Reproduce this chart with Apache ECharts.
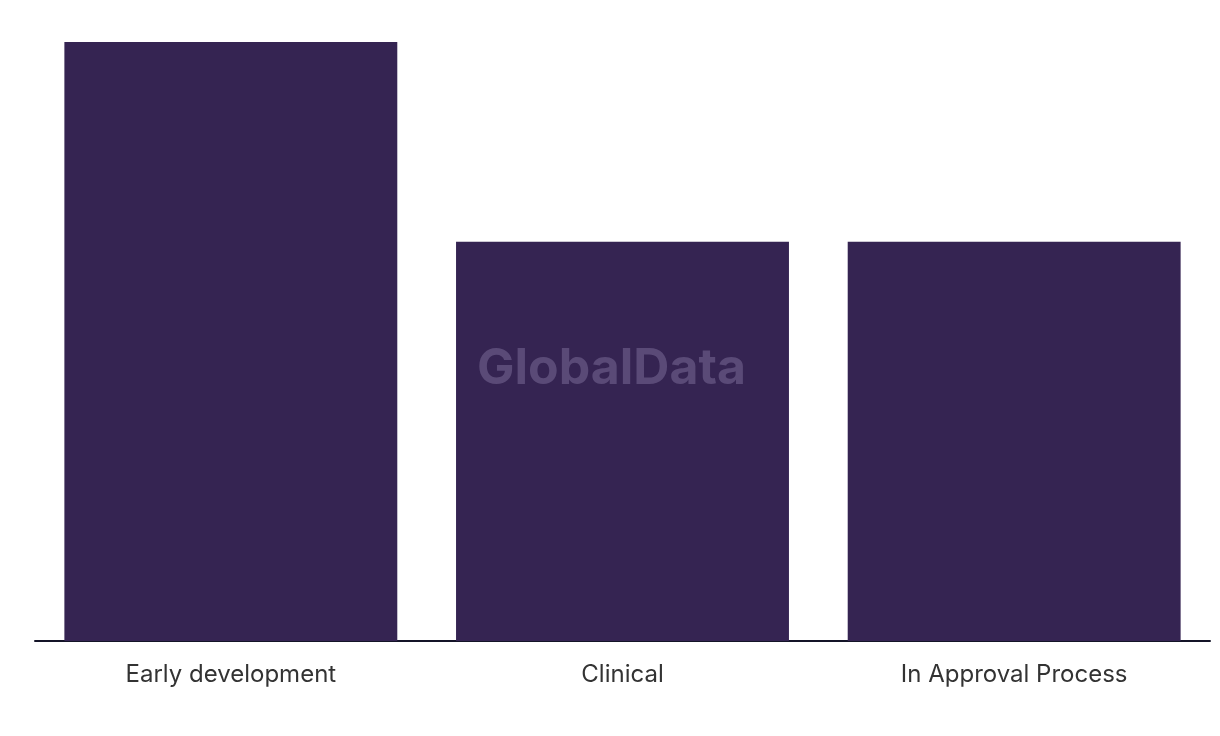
<!DOCTYPE html>
<html>
<head>
<meta charset="utf-8">
<script src="https://cdn.jsdelivr.net/npm/echarts@6/dist/echarts.min.js"></script>
<style>
html,body{margin:0;padding:0;background:#fff;}
#chart{width:1220px;height:736px;}
</style>
</head>
<body>
<div id="chart"></div>
<script>
const categories = ["Early development", "Clinical", "In Approval Process"];
const values = [3, 2, 2];

const chart = echarts.init(document.getElementById('chart'), null, {renderer: 'canvas'});
chart.setOption({
  animation: false,
  backgroundColor: '#ffffff',
  grid: {left: 35, right: 10, top: 42, bottom: 95, containLabel: false},
  xAxis: {
    type: 'category',
    data: categories,
    axisLine: {show: true, lineStyle: {color: '#141428', width: 2}},
    axisTick: {show: false},
    axisLabel: {color: '#333333', fontSize: 24, fontFamily: 'Inter, "Noto Sans", sans-serif', margin: 22}
  },
  yAxis: {
    type: 'value',
    min: 0,
    max: 3,
    show: false,
    splitLine: {show: false}
  },
  graphic: [{
    type: 'text',
    z: 100,
    style: {
      x: 477,
      y: 369,
      text: 'GlobalData',
      align: 'left',
      verticalAlign: 'middle',
      fill: 'rgba(120,105,150,0.55)',
      font: 'bold 50px Inter, "Noto Sans", sans-serif'
    }
  }],
  series: [{
    type: 'bar',
    data: values,
    barWidth: '85%',
    itemStyle: {color: '#352452'}
  }]
});
</script>
</body>
</html>
